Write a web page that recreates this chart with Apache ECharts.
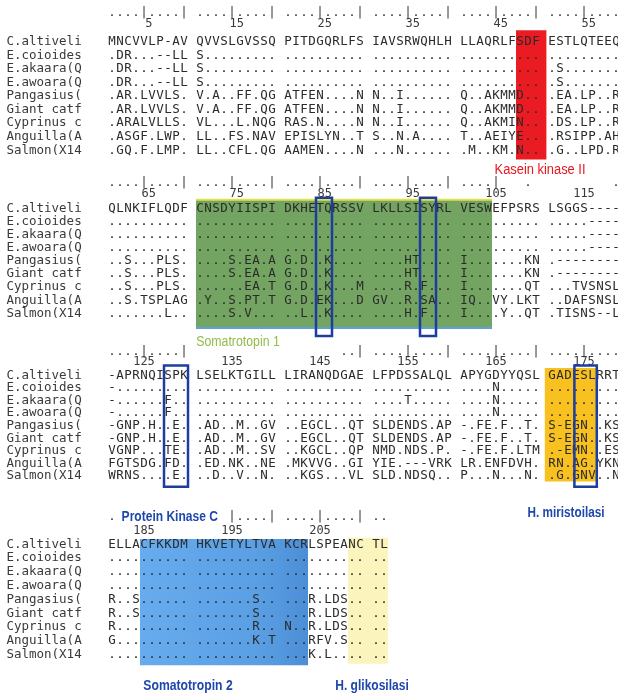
<!DOCTYPE html>
<html>
<head>
<meta charset="utf-8">
<script src="https://cdn.jsdelivr.net/npm/echarts@6/dist/echarts.min.js"></script>
<style>
html, body { margin: 0; padding: 0; background: #fff; }
#chart { width: 618px; height: 697px; }
</style>
</head>
<body>
<div id="chart"></div>
<script>
// 物种名
const names = ['C.altiveli', 'E.coioides', 'E.akaara(Q', 'E.awoara(Q', 'Pangasius(', 'Giant catf', 'Cyprinus c', 'Anguilla(A', 'Salmon(X14'];

// 比对序列，每块60列，每10列一组
const block1 = [
  'MNCVVLP-AV QVVSLGVSSQ PITDGQRLFS IAVSRWQHLH LLAQRLFSDF ESTLQTEEQR',
  '.DR...--LL S......... .......... .......... .......... ..........',
  '.DR...--LL S......... .......... .......... .......... .S........',
  '.DR...--LL S......... .......... .......... .......... .S........',
  '.AR.LVVLS. V.A..FF.QG ATFEN....N N..I...... Q..AKMMD.. .EA.LP..RK',
  '.AR.LVVLS. V.A..FF.QG ATFEN....N N..I...... Q..AKMMD.. .EA.LP..RK',
  '.ARALVLLS. VL...L.NQG RAS.N....N N..I...... Q..AKMIN.. .DS.LP..R.',
  '.ASGF.LWP. LL..FS.NAV EPISLYN..T S..N.A.... T..AEIYE.. .RSIPP.AH.',
  '.GQ.F.LMP. LL..CFL.QG AAMEN....N ...N...... .M..KM.N.. .G..LPD.R.'
];
const block2 = [
  'QLNKIFLQDF CNSDYIISPI DKHETQRSSV LKLLSISYRL VESWEFPSRS LSGGS-----',
  '.......... .......... .......... .......... .......... .....-----',
  '.......... .......... .......... .......... .......... .....-----',
  '.......... .......... .......... .......... .......... .....-----',
  '..S...PLS. ....S.EA.A G.D..K.... ....HT.... I.......KN .---------',
  '..S...PLS. ....S.EA.A G.D..K.... ....HT.... I.......KN .---------',
  '..S...PLS. ......EA.T G.D..K...M ....R.F... I.......QT ...TVSNSLT',
  '..S.TSPLAG .Y..S.PT.T G.D.EK...D GV..R.SA.. IQ..VY.LKT ..DAFSNSLM',
  '.......L.. ....S.V... ..L..K.... ....H.F... I....Y..QT .TISNS--LM'
];
const block3 = [
  '-APRNQISPK LSELKTGILL LIRANQDGAE LFPDSSALQL APYGDYYQSL GADESLRRTY',
  '-......... .......... .......... .......... ....N..... ..........',
  '-......F.. .......... .......... ....T..... ....N..... ..........',
  '-......F.. .......... .......... .......... ....N..... ..........',
  '-GNP.H..E. .AD..M..GV ..EGCL..QT SLDENDS.AP -.FE.F..T. S-EGN..KSF',
  '-GNP.H..E. .AD..M..GV ..EGCL..QT SLDENDS.AP -.FE.F..T. S-EGN..KSF',
  'VGNP...TE. .AD..M..SV ..KGCL..QP NMD.NDS.P. -.FE.F.LTM .-EMN..ESF',
  'FGTSDG.FD. .ED.NK..NE .MKVVG..GI YIE.---VRK LR.ENFDVH. RN.AG.YKN.',
  'WRNS....E. ..D..V..N. ..KGS...VL SLD.NDSQ.. P...N...N. .G.GNV..N.'
];
const block4 = [
  'ELLACFKKDM HKVETYLTVA KCRLSPEANC TL',
  '.......... .......... .......... ..',
  '.......... .......... .......... ..',
  '.......... .......... .......... ..',
  'R..S...... .......S.. ...R.LDS.. ..',
  'R..S...... .......S.. ...R.LDS.. ..',
  'R......... .......R.. N..R.LDS.. ..',
  'G......... .......K.T ...RFV.S.. ..',
  '.......... .......... ...K.L.... ..'
];
const blocks = [block1, block2, block3, block4];
const blockFirstCol = [1, 61, 121, 181];

// 标尺行
const rulers = [
  '....|....| ....|....| ....|....| ....|....| ....|....| ....|....|',
  '....|....| ....|....| ....|....| ....|....| ....|   .          .|',
  '....|....|                   ..| ....|....| ....|....| ....|....|',
  '.              |....| ....|....| ..'
];
const tickNums = [
  [5, 15, 25, 35, 45, 55],
  [65, 75, 85, 95, 105, 115],
  [125, 135, 145, 155, 165, 175],
  [185, 195, 205]
];

// 标注区域（列号）
const regions = [
  { name: 'kasein', from: 48, to: 50 },
  { name: 'soma1', from: 71, to: 104 },
  { name: 'pkcA', from: 85, to: 86 },
  { name: 'pkcB', from: 97, to: 98 },
  { name: 'pkcC', from: 128, to: 130 },
  { name: 'miri', from: 171, to: 176 },
  { name: 'miriBox', from: 174, to: 176 },
  { name: 'soma2', from: 185, to: 203 },
  { name: 'gliko', from: 209, to: 212 }
];
const notes = ['Kasein kinase II', 'Somatrotopin 1', 'Protein Kinase C', 'H. miristoilasi', 'Somatotropin 2', 'H. glikosilasi'];

// ---- 版式 ----
const layout = {
  rulerLine: [0, 12.83, 25.58, 38.04],
  numLine: [0.83, 13.66, 26.36, 39.1],
  rowLine: [2.2, 14.75, 27.35, 40.1],
  rowStep: [1.02, 0.99, 0.95, 1.04],
  nameSlot: -13.2
};
const noteLayout = [
  { slot: 53.5, line: 11.85, color: '#e8161e', weight: 'normal', align: 'center', sx: 0.92 },
  { slot: 15.75, line: 24.85, color: '#93bb4a', weight: 'normal', align: 'center', sx: 0.88 },
  { slot: 1.2, line: 38.04, color: '#1f47ad', weight: 'bold', align: 'left', sx: 0.86 },
  { slot: 56.75, line: 37.75, color: '#1f47ad', weight: 'bold', align: 'center', sx: 0.84 },
  { slot: 9.5, line: 50.8, color: '#1f47ad', weight: 'bold', align: 'center', sx: 0.87 },
  { slot: 32.5, line: 50.8, color: '#1f47ad', weight: 'bold', align: 'center', sx: 0.86 }
];
const regionStyle = {
  kasein: { type: 'fill', fill: '#ea1b23', top: -0.9, bottom: 0.7, padL: 0.5, padR: 1.3 },
  soma1: { type: 'fill', fill: '#74a461', top: -0.65, bottom: 1.1, padL: 0.5, padR: 0.5, topLine: '#e4df4c', bottomLine: '#5da2db' },
  pkcA: { type: 'box', top: -0.8, bottom: 1.7, padL: 0.5, padR: 0.5 },
  pkcB: { type: 'box', top: -0.8, bottom: 1.7, padL: 0.5, padR: 0.5 },
  pkcC: { type: 'box', top: -0.75, bottom: 0.8, padL: 0.5, padR: 0.5 },
  miri: { type: 'fill', fill: '#f8c11f', top: -0.55, bottom: 0.4, padL: 0.9, padR: 0.5 },
  miriBox: { type: 'box', top: -0.75, bottom: 0.8, padL: 0.2, padR: 0.6 },
  soma2: { type: 'fill', fill: 'blue2', top: -0.4, bottom: 0.8, padL: 0.5, padR: 0.5 },
  gliko: { type: 'fill', fill: '#fbf4bc', top: -0.5, bottom: 0.7, padL: 0.5, padR: 0.5 }
};

function blockOf(col) {
  let b = 0;
  blockFirstCol.forEach((c, i) => { if (col >= c) b = i; });
  return b;
}
function slotOf(col) {
  const c = col - blockFirstCol[blockOf(col)];
  return c + Math.floor(c / 10);
}
function rowLineOf(b, r) {
  return layout.rowLine[b] + r * layout.rowStep[b];
}

// 文字单元
const cells = [];
blocks.forEach((rows, b) => {
  rows.forEach((s, r) => {
    const y = rowLineOf(b, r);
    cells.push({ x: layout.nameSlot, y: y, text: names[r], kind: 'name' });
    for (let k = 0; k < s.length; k++) {
      if (s[k] !== ' ') cells.push({ x: k, y: y, text: s[k], kind: 'seq' });
    }
  });
  const ru = rulers[b];
  for (let k = 0; k < ru.length; k++) {
    if (ru[k] !== ' ') cells.push({ x: k, y: layout.rulerLine[b], text: ru[k], kind: 'ruler' });
  }
  tickNums[b].forEach((n) => {
    cells.push({ x: slotOf(n) + (n < 100 ? 0.6 : 0), y: layout.numLine[b], text: String(n), kind: 'num' });
  });
});

const regionItems = regions.map((g) => {
  const b = blockOf(g.from);
  const st = regionStyle[g.name];
  return {
    x0: slotOf(g.from) - st.padL,
    x1: slotOf(g.to) + st.padR,
    y0: rowLineOf(b, 0) + st.top,
    y1: rowLineOf(b, 8) + st.bottom,
    st: st
  };
});
const fills = regionItems.filter((d) => d.st.type === 'fill');
const boxes = regionItems.filter((d) => d.st.type === 'box');

const chart = echarts.init(document.getElementById('chart'));

function rectOf(api, d) {
  const p0 = api.coord([d.x0, d.y0]);
  const p1 = api.coord([d.x1, d.y1]);
  return { x: p0[0], y: p0[1], width: p1[0] - p0[0], height: p1[1] - p0[1] };
}

const option = {
  animation: false,
  grid: { left: 0, right: 0, top: 0, bottom: 0 },
  xAxis: { type: 'value', min: -14, max: 63.25, show: false },
  yAxis: { type: 'value', inverse: true, min: -0.98, max: 51.62, show: false },
  series: [
    {
      type: 'custom',
      silent: true,
      clip: false,
      z: 1,
      data: fills.map((d) => [d.x0, d.y0]),
      renderItem: (params, api) => {
        const d = fills[params.dataIndex];
        const r = rectOf(api, d);
        let fill = d.st.fill;
        if (fill === 'blue2') {
          fill = new echarts.graphic.LinearGradient(0, 0, 1, 0, [
            { offset: 0, color: '#66acee' },
            { offset: 0.7, color: '#5a9fe4' },
            { offset: 1, color: '#4c8ed6' }
          ]);
        }
        const children = [{ type: 'rect', shape: r, style: { fill: fill } }];
        if (d.st.topLine) {
          children.push({ type: 'rect', shape: { x: r.x, y: r.y - 1, width: r.width, height: 2 }, style: { fill: d.st.topLine } });
          children.push({ type: 'rect', shape: { x: r.x, y: r.y + r.height - 1, width: r.width, height: 2 }, style: { fill: d.st.bottomLine } });
        }
        return { type: 'group', children: children };
      }
    },
    {
      type: 'custom',
      silent: true,
      clip: false,
      z: 2,
      progressive: 0,
      data: cells.map((c) => [c.x, c.y]),
      renderItem: (params, api) => {
        const c = cells[params.dataIndex];
        const p = api.coord([c.x, c.y]);
        const isName = c.kind === 'name';
        return {
          type: 'text',
          style: {
            text: c.text,
            x: p[0],
            y: p[1],
            align: isName ? 'left' : 'center',
            verticalAlign: 'middle',
            fontFamily: 'DejaVu Sans Mono',
            fontSize: c.kind === 'num' ? 12 : 12.5,
            fill: c.kind === 'seq' ? '#2b2b2b' : '#3a3a3a'
          }
        };
      }
    },
    {
      type: 'custom',
      silent: true,
      clip: false,
      z: 3,
      data: boxes.map((d) => [d.x0, d.y0]),
      renderItem: (params, api) => {
        const d = boxes[params.dataIndex];
        return {
          type: 'rect',
          shape: rectOf(api, d),
          style: { fill: 'none', stroke: '#1d3ea0', lineWidth: 2.5 }
        };
      }
    },
    {
      type: 'custom',
      silent: true,
      clip: false,
      z: 4,
      data: noteLayout.map((n) => [n.slot, n.line]),
      renderItem: (params, api) => {
        const n = noteLayout[params.dataIndex];
        const p = api.coord([n.slot, n.line]);
        return {
          type: 'text',
          x: p[0],
          y: p[1],
          scaleX: n.sx,
          style: {
            text: notes[params.dataIndex],
            x: 0,
            y: 0,
            align: n.align,
            verticalAlign: 'middle',
            fontFamily: '"Liberation Sans Narrow", "Liberation Sans", sans-serif',
            fontWeight: n.weight,
            fontSize: 14,
            fill: n.color
          }
        };
      }
    }
  ]
};
chart.setOption(option);
</script>
</body>
</html>
